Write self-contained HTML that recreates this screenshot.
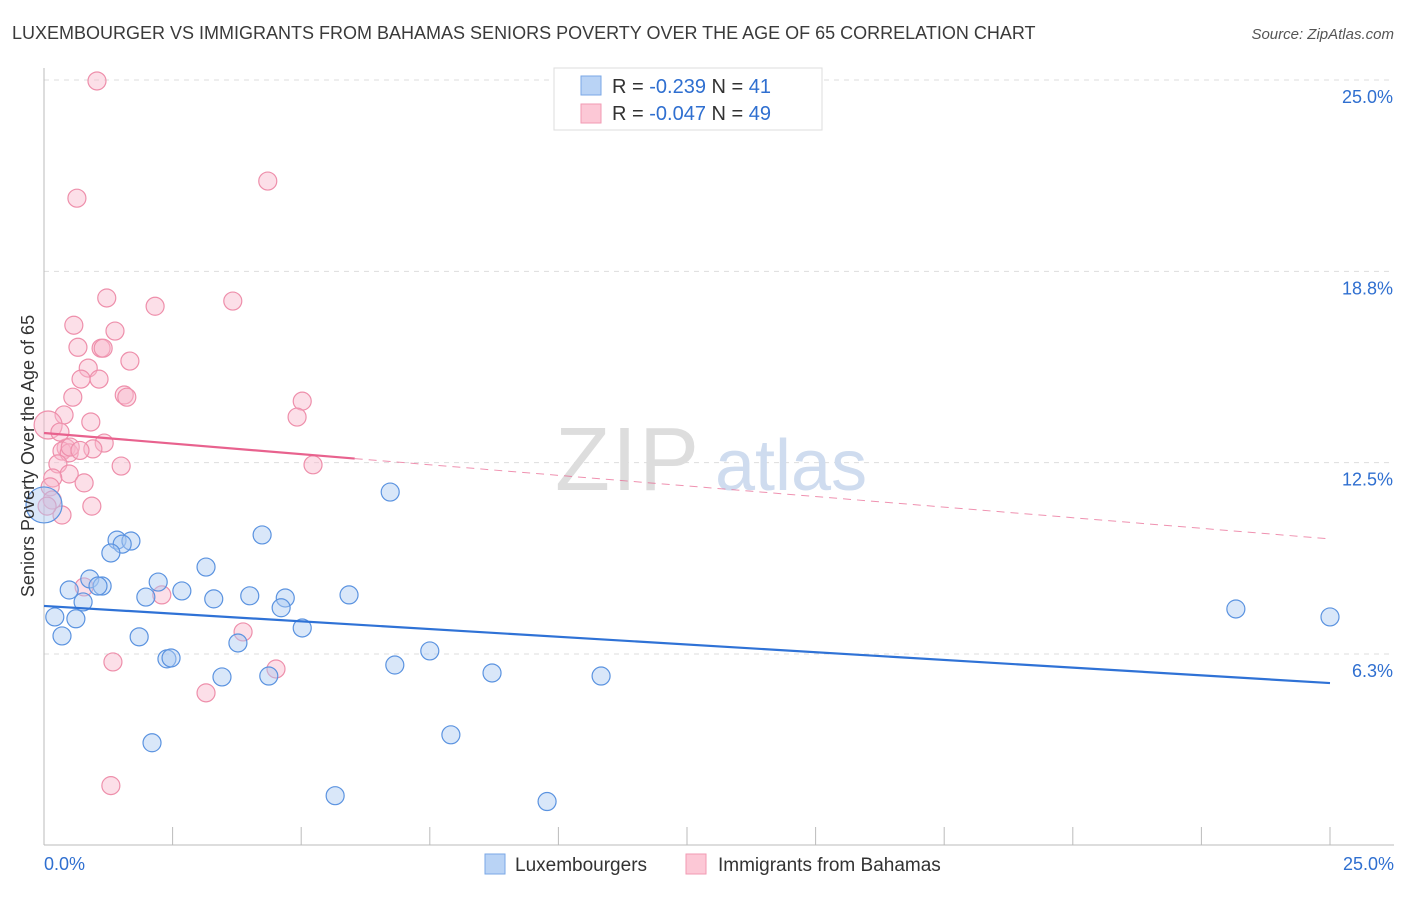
<!DOCTYPE html>
<html><head><meta charset="utf-8"><style>
body{margin:0;background:#fff;font-family:"Liberation Sans",sans-serif;}
svg text{font-family:"Liberation Sans",sans-serif;}
</style></head><body>
<svg id="chart" width="1406" height="892" viewBox="0 0 1406 892">
<text x="12" y="39" font-size="18" fill="#3a3a3a">LUXEMBOURGER VS IMMIGRANTS FROM BAHAMAS SENIORS POVERTY OVER THE AGE OF 65 CORRELATION CHART</text>
<text x="1394" y="39" font-size="15" fill="#555" text-anchor="end" font-style="italic">Source: ZipAtlas.com</text>
<g id="grid"></g>
<g><text x="555" y="490" font-size="90" fill="#ddd" font-family="Liberation Serif" letter-spacing="2">ZIP</text><text x="715" y="490" font-size="72" fill="#cfdcef">atlas</text></g>
<line x1="44" y1="845" x2="1394" y2="845" stroke="#bbb"/>
<line x1="44" y1="68" x2="44" y2="845" stroke="#bbb"/>
<g id="ticks"></g>
<g id="marks"></g>
<text transform="translate(34,456) rotate(-90)" font-size="18" fill="#333" text-anchor="middle">Seniors Poverty Over the Age of 65</text>
<g>
<rect x="554" y="68" width="268" height="62" fill="#fff" stroke="#ddd"/>
<rect x="581" y="76" width="20" height="19" fill="#b9d3f5" stroke="#7aa7e6"/>
<rect x="581" y="104" width="20" height="19" fill="#fcc8d6" stroke="#f29ab3"/>
<text x="612" y="93" font-size="20" fill="#333">R = <tspan fill="#2f6fd0"> -0.239</tspan>   N = <tspan fill="#2f6fd0"> 41</tspan></text>
<text x="612" y="120" font-size="20" fill="#333">R = <tspan fill="#2f6fd0">-0.047</tspan>   N = <tspan fill="#2f6fd0">49</tspan></text>
</g>
<g>
<rect x="485" y="854" width="20" height="20" fill="#b9d3f5" stroke="#7aa7e6"/>
<text x="515" y="871" font-size="19" fill="#333">Luxembourgers</text>
<rect x="686" y="854" width="20" height="20" fill="#fcc8d6" stroke="#f29ab3"/>
<text x="718" y="871" font-size="19" fill="#333">Immigrants from Bahamas</text>
</g>
</svg>
<script>
const yTicks=[6.25,12.5,18.75,25];
const yTickLabels=["6.3%","12.5%","18.8%","25.0%"];
const xTickLabels=["0.0%","25.0%"];
const blueX=[6.73,4.24,1.42,1.69,1.52,1.30,3.15,0.89,2.22,0.49,1.13,1.05,2.68,1.98,3.30,4.00,4.69,5.93,0.76,4.61,0.21,0.62,5.02,1.85,0.35,3.77,7.50,2.39,2.47,6.82,8.71,3.46,4.37,10.83,2.10,7.91,5.66,9.78,23.17,25.0,0];
const blueY=[11.54,10.14,9.97,9.94,9.84,9.55,9.09,8.70,8.60,8.34,8.47,8.47,8.31,8.11,8.05,8.15,8.08,8.18,7.95,7.76,7.46,7.40,7.10,6.81,6.84,6.61,6.35,6.09,6.12,5.89,5.63,5.50,5.53,5.53,3.35,3.61,1.62,1.43,7.72,7.46,11.12];
const pinkX=[1.03,4.35,0.64,1.22,2.16,3.67,0.58,1.38,0.66,1.11,1.15,1.67,0.86,0.72,1.07,1.56,1.61,0.56,5.02,0.39,4.92,0.91,0.08,1.17,0.43,0.95,0.35,0.49,0.27,5.23,1.50,0.49,0.17,0.78,0.12,0.93,0.35,0.78,2.29,3.87,1.34,4.51,3.15,1.30,0.16,0.31,0.51,0.06,0.70];
const pinkY=[24.97,21.70,21.14,17.88,17.61,17.78,16.99,16.80,16.27,16.24,16.24,15.82,15.59,15.23,15.23,14.71,14.64,14.64,14.51,14.06,13.99,13.83,13.73,13.14,12.98,12.95,12.88,12.82,12.46,12.43,12.39,12.13,12.00,11.84,11.71,11.08,10.79,8.44,8.18,6.97,5.99,5.76,4.98,1.95,11.28,13.50,13.01,11.08,12.90];
const blueBig=[40], pinkBig=[22];
const blueTrend=[7.82,5.30];
const pinkTrend=[13.47,10.01];
const pinkSolidEnd=6.04;

const NS="http://www.w3.org/2000/svg";
const X=v=>44+v*51.44, Y=v=>845.3-v*30.61;
function mk(tag,attrs,parent){const e=document.createElementNS(NS,tag);for(const k in attrs)e.setAttribute(k,attrs[k]);parent.appendChild(e);return e;}
const grid=document.getElementById('grid'),ticks=document.getElementById('ticks'),marks=document.getElementById('marks');
yTicks.forEach((t,i)=>{
  const l=mk('line',{x1:44,x2:1394,y1:Y(t),y2:Y(t),stroke:'#ddd','stroke-dasharray':'5,5'},grid);
  
  
  const tx=mk('text',{x:1393,y:Y(t)+23,'font-size':18,fill:'#2f6fd0','text-anchor':'end'},ticks);
  tx.textContent=yTickLabels[i];
  
  
});
for(let i=0;i<=10;i++){
  const x=X(i*2.5);
  const l=mk('line',{x1:x,x2:x,y1:827,y2:845,stroke:'#bbb'},ticks);
  
  
}
[[0,'start',44],[25,'end',1394]].forEach((d,i)=>{
  const tx=mk('text',{x:d[2],y:870,'font-size':18,fill:'#2f6fd0','text-anchor':d[1]},ticks);
  tx.textContent=xTickLabels[i];
  
  
});
function pts(xs,ys,big,fill,stroke,name){
  xs.forEach((v,i)=>{
    const c=mk('circle',{cx:X(v),cy:Y(ys[i]),r:big.includes(i)?(name==='luxembourger-point'?18:14):9,fill:fill,'fill-opacity':0.45,stroke:stroke,'stroke-width':1.2},marks);
    
    
  });
}
pts(pinkX,pinkY,pinkBig,'#f9b8cb','#ee8fab','bahamas-point');
pts(blueX,blueY,blueBig,'#abc9f1','#5b93e0','luxembourger-point');
const py=x=>pinkTrend[0]+(pinkTrend[1]-pinkTrend[0])*x/25;
let l=mk('line',{x1:X(0),y1:Y(pinkTrend[0]),x2:X(pinkSolidEnd),y2:Y(py(pinkSolidEnd)),stroke:'#e8628e','stroke-width':2.2},marks);


l=mk('line',{x1:X(pinkSolidEnd),y1:Y(py(pinkSolidEnd)),x2:X(25),y2:Y(pinkTrend[1]),stroke:'#e8628e','stroke-width':1,'stroke-dasharray':'8,6','stroke-opacity':0.7},marks);


l=mk('line',{x1:X(0),y1:Y(blueTrend[0]),x2:X(25),y2:Y(blueTrend[1]),stroke:'#2f72d6','stroke-width':2.2},marks);


</script>
</body></html>
